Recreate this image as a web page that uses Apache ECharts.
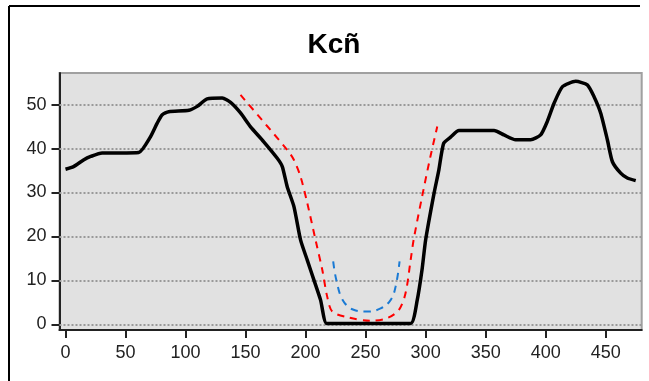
<!DOCTYPE html>
<html>
<head>
<meta charset="utf-8">
<script src="https://cdn.jsdelivr.net/npm/echarts@6/dist/echarts.min.js"></script>
<style>html,body{margin:0;padding:0;background:#fff;}#c{width:649px;height:381px;}</style>
</head>
<body>
<div id="c"></div>
<script>
var titleText = 'Kcñ';
var xTicks = [0, 50, 100, 150, 200, 250, 300, 350, 400, 450];
var yTicks = [0, 10, 20, 30, 40, 50];

var blackX = [0, 6.7, 15, 21, 30.5, 45, 61, 70.8, 76.4, 80.6, 86, 102.8, 109.7, 118, 130.6, 137.5, 145.8, 154, 165, 176.4, 180.6, 184.7, 190.3, 195.8, 201.4, 206.9, 212.5, 217.5, 230, 260, 287.5, 293, 297, 300, 307, 311, 315, 320.8, 327.8, 357, 365.3, 375, 387.5, 395.8, 401.4, 407, 414, 425, 434.7, 440.3, 445.8, 451.4, 455.6, 462.5, 468, 475];
var blackY = [35.3, 35.9, 37.4, 38.2, 39, 39, 39.1, 42.7, 45.8, 47.7, 48.4, 48.7, 49.6, 51.3, 51.5, 50.5, 48.1, 45, 41.6, 37.8, 35.9, 31.3, 26.8, 19.2, 14.6, 10.1, 5.5, 0.2, 0.2, 0.2, 0.2, 5.5, 12.4, 19.2, 29.8, 35.1, 41.2, 42.6, 44.1, 44.1, 43.1, 42, 42, 43.1, 46.2, 50.3, 54.1, 55.3, 54.5, 51.8, 48.1, 42, 37, 34.4, 33.3, 32.7];

var redX = [145.8, 184.7, 190.3, 195.8, 201.4, 208.3, 213.9, 218, 222.2, 234.7, 254, 268, 277.8, 283.3, 287.5, 290, 297, 304, 309.7];
var redY = [52.2, 39.7, 37.4, 33.6, 27.6, 19.2, 12.4, 6.3, 2.9, 1.6, 0.8, 1.4, 3.3, 7.1, 14.6, 19.2, 29, 38.2, 45];

var blueX = [223, 225.6, 231, 240, 251, 262.5, 270.8, 275, 278.3];
var blueY = [14.3, 10.1, 5.5, 3.3, 2.9, 3.6, 5.5, 8.6, 14.3];

function pairs(xs, ys) { return xs.map(function (x, i) { return [x, ys[i]]; }); }

var chart = echarts.init(document.getElementById('c'), null, { renderer: 'canvas' });
chart.setOption({
  animation: false,
  backgroundColor: '#ffffff',
  title: {
    text: titleText, left: 329, top: 26, textAlign: 'center',
    textStyle: { fontFamily: 'Liberation Sans, Arial, sans-serif', fontWeight: 'bold', fontSize: 28, color: '#000' }
  },
  graphic: [
    { type: 'line', shape: { x1: 9, y1: 6, x2: 640, y2: 6 }, style: { stroke: '#000', lineWidth: 2 }, z: 100 },
    { type: 'line', shape: { x1: 9, y1: 6, x2: 9, y2: 381 }, style: { stroke: '#000', lineWidth: 2 }, z: 100 }
  ],
  grid: {
    left: 59.5, right: 7.3, top: 73, bottom: 51,
    show: true, backgroundColor: '#e1e1e1', borderColor: '#a0a0a0', borderWidth: 2
  },
  xAxis: {
    type: 'value', min: -5, max: 480,
    axisLine: { show: true, onZero: false, lineStyle: { color: '#222', width: 2 } },
    axisTick: { show: true, length: 8, customValues: xTicks, lineStyle: { color: '#222', width: 2 } },
    axisLabel: { customValues: xTicks, margin: 14, color: '#222', fontSize: 18, fontFamily: 'Liberation Sans, Arial, sans-serif' },
    splitLine: { show: false }
  },
  yAxis: {
    type: 'value', min: -1.3, max: 57.2,
    axisLine: { show: true, onZero: false, lineStyle: { color: '#222', width: 2 } },
    axisTick: { show: true, length: 8, customValues: yTicks, lineStyle: { color: '#222', width: 2 } },
    axisLabel: { customValues: yTicks, margin: 13, color: '#222', fontSize: 18, fontFamily: 'Liberation Sans, Arial, sans-serif' },
    splitLine: { show: false }
  },
  series: [
    {
      type: 'line', data: [], silent: true,
      markLine: {
        silent: true, symbol: 'none', label: { show: false },
        lineStyle: { type: [2, 2], color: '#999', width: 2 },
        data: yTicks.map(function (v) { return { yAxis: v }; }),
        z: 1
      },
      z: 1
    },
    {
      type: 'line', data: pairs(blackX, blackY), showSymbol: false, smooth: 0.2,
      lineStyle: { color: '#000', width: 3.5 }, z: 5
    },
    {
      type: 'line', data: pairs(redX, redY), showSymbol: false, smooth: 0.3,
      lineStyle: { color: '#ff0000', width: 2, type: [7, 6] }, z: 4
    },
    {
      type: 'line', data: pairs(blueX, blueY), showSymbol: false, smooth: 0.4,
      lineStyle: { color: '#1a7ad4', width: 2, type: [7, 6] }, z: 4
    }
  ]
});
</script>
</body>
</html>
